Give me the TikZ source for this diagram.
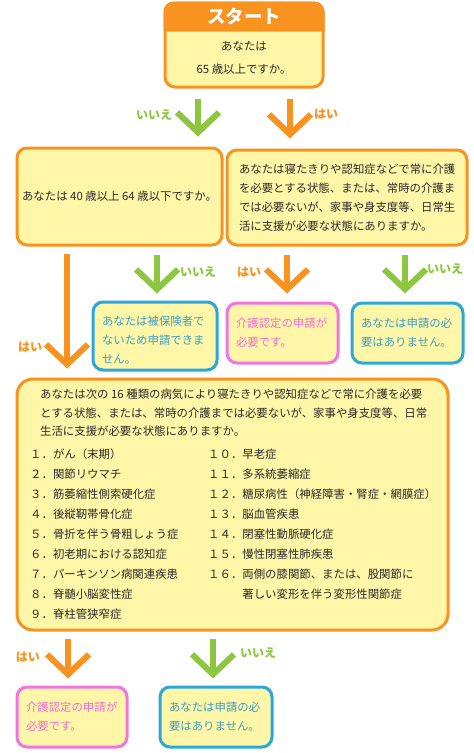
\documentclass[tikz,border=0pt]{standalone}
\usepackage{fontspec}
\setmainfont{Noto Sans CJK JP}
\usetikzlibrary{arrows.meta}
\definecolor{korange}{HTML}{F7931E}
\definecolor{kgreen}{HTML}{8DC63F}
\definecolor{kblue}{HTML}{2AA8DC}
\definecolor{kpink}{HTML}{F075E0}
\definecolor{kfill}{HTML}{FFF6A8}
\definecolor{ktext}{HTML}{2B2B2B}
\definecolor{kbluetext}{HTML}{3A9FC8}
\definecolor{kpinktext}{HTML}{EE6ED6}
\begin{document}
\begin{tikzpicture}[x=1pt,y=-1pt,
    qbox/.style={draw=korange,fill=kfill,line width=3pt,rounded corners=10pt,text=ktext,font=\fontsize{11.4}{19}\selectfont},
    bluebox/.style={qbox,draw=kblue,text=kbluetext,align=left},
    pinkbox/.style={qbox,draw=kpink,text=kpinktext,align=left},
    yesarrow/.style={draw=korange,line width=6pt,-{Straight Barb[length=20pt,width=42pt]}},
    noarrow/.style={yesarrow,draw=kgreen},
    yeslabel/.style={text=korange,font=\bfseries\fontsize{12}{12}\selectfont},
    nolabel/.style={yeslabel,text=kgreen},
    listtext/.style={anchor=north west,inner sep=0pt,align=left,text=ktext}]
  \useasboundingbox (0,0) rectangle (474,753);
  \fill[white] (0,0) rectangle (474,753);
  \node[qbox,minimum width=158pt,minimum height=84pt] (start) at (244,45) {};
  \fill[korange] ([yshift=-30pt]start.north west) [rounded corners=10pt] -- (start.north west) -- (start.north east) [sharp corners] -- ([yshift=-30pt]start.north east) -- cycle;
  \node[font=\bfseries\fontsize{18.5}{18.5}\selectfont,text=white] (title) at ([yshift=-15pt]start.north) {スタート};
  \node[font=\fontsize{11.4}{23}\selectfont,text=ktext,align=center] (startq) at ([yshift=-56pt]start.north) {あなたは\\65 歳以上ですか。};
  \node[qbox,minimum width=205pt,minimum height=97pt] (q1) at (119.5,196.5) {あなたは 40 歳以上 64 歳以下ですか。};
  \node[qbox,align=left,text width=216pt,inner xsep=12pt,minimum height=95pt] (q2) at (347,197.5) {あなたは寝たきりや認知症などで常に介護\\を必要とする状態、または、常時の介護ま\\では必要ないが、家事や身支度等、日常生\\活に支援が必要な状態にありますか。};
  \node[bluebox,text width=106pt,inner xsep=9pt,minimum height=68pt] (r1) at (155,336) {\rule{0pt}{18pt}あなたは被保険者で\\ないため申請できま\\せん。};
  \node[pinkbox,text width=93pt,inner xsep=9pt,minimum height=60pt] (r2) at (282.5,333) {介護認定の申請が\\必要です。};
  \node[bluebox,text width=93pt,inner xsep=9pt,minimum height=60pt] (r3) at (407.5,333) {あなたは申請の必\\要はありません。};
  \node[qbox,rounded corners=16pt,minimum width=431pt,minimum height=251pt] (q3) at (232.5,504.5) {};
  \node[listtext,font=\fontsize{11.4}{18.5}\selectfont] (q3text) at (40,389) {あなたは次の 16 種類の病気により寝たきりや認知症などで常に介護を必要\\とする状態、または、常時の介護までは必要ないが、家事や身支度等、日常\\生活に支援が必要な状態にありますか。};
  \node[listtext,font=\fontsize{11.4}{20}\selectfont] (listl) at (30,449) {１．がん（末期）\\２．関節リウマチ\\３．筋萎縮性側索硬化症\\４．後縦靭帯骨化症\\５．骨折を伴う骨粗しょう症\\６．初老期における認知症\\７．パーキンソン病関連疾患\\８．脊髄小脳変性症\\９．脊柱管狭窄症};
  \node[listtext,font=\fontsize{11.4}{20}\selectfont] (listr) at (208,449) {１０．早老症\\１１．多系統萎縮症\\１２．糖尿病性（神経障害・腎症・網膜症）\\１３．脳血管疾患\\１４．閉塞性動脈硬化症\\１５．慢性閉塞性肺疾患\\１６．両側の膝関節、または、股関節に\\\phantom{１６．}著しい変形を伴う変形性関節症};
  \node[pinkbox,text width=92pt,inner xsep=9pt,minimum height=60pt] (r4) at (72,717) {介護認定の申請が\\必要です。};
  \node[bluebox,text width=94pt,inner xsep=9pt,minimum height=60pt] (r5) at (216,717) {あなたは申請の必\\要はありません。};
  \draw[noarrow] ([xshift=-46pt,yshift=-10pt]start.south) -- ([xshift=78.5pt,yshift=10pt]q1.north);
  \draw[yesarrow] ([xshift=46pt,yshift=-10pt]start.south) -- ([xshift=-57pt,yshift=10pt]q2.north);
  \draw[yesarrow] ([xshift=-52.5pt,yshift=-7pt]q1.south) -- ([xshift=-165.5pt,yshift=9pt]q3.north);
  \draw[noarrow] ([xshift=37.5pt,yshift=-8pt]q1.south) -- ([xshift=2pt,yshift=7pt]r1.north);
  \draw[yesarrow] ([xshift=-60pt,yshift=-8pt]q2.south) -- ([xshift=4.5pt,yshift=8pt]r2.north);
  \draw[noarrow] ([xshift=58pt,yshift=-8pt]q2.south) -- ([xshift=-2.5pt,yshift=8pt]r3.north);
  \draw[yesarrow] ([xshift=-164.5pt,yshift=-7pt]q3.south) -- ([xshift=-4pt,yshift=7pt]r4.north);
  \draw[noarrow] ([xshift=-19.5pt,yshift=-7pt]q3.south) -- ([xshift=-3pt,yshift=7pt]r5.north);
  \node[nolabel] (no1) at (154,115) {いいえ};
  \node[yeslabel] (yes1) at (326,114) {はい};
  \node[yeslabel] (yes2) at (30,347) {はい};
  \node[nolabel] (no2) at (198,272) {いいえ};
  \node[yeslabel] (yes3) at (249,272) {はい};
  \node[nolabel] (no3) at (445,269) {いいえ};
  \node[yeslabel] (yes4) at (28,657) {はい};
  \node[nolabel] (no4) at (258,653) {いいえ};
\end{tikzpicture}
\end{document}
